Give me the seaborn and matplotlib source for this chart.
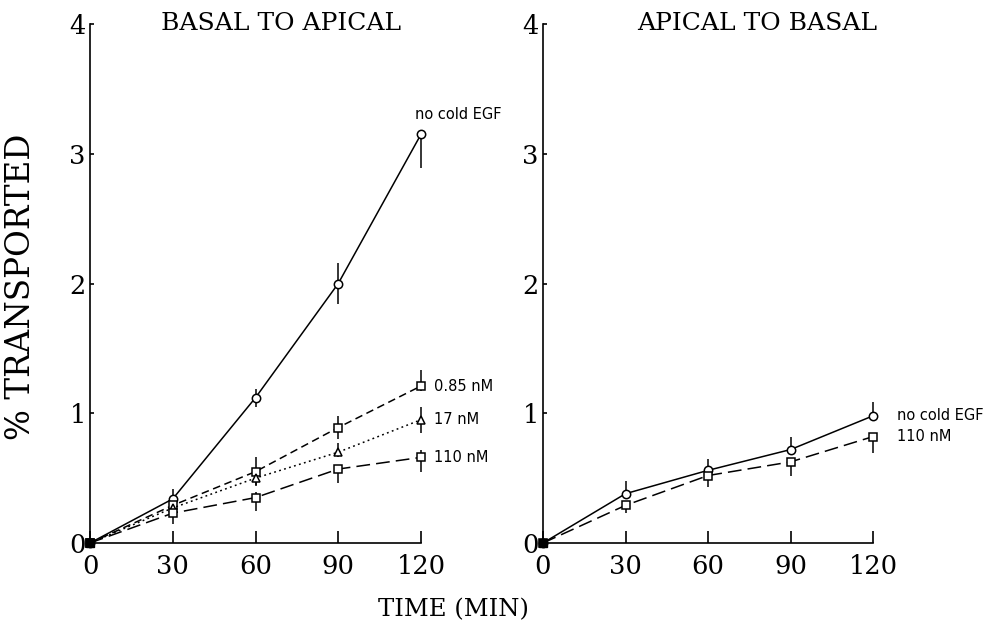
import matplotlib
matplotlib.use("Agg")
import matplotlib.pyplot as plt
import numpy as np
import pandas as pd
import seaborn as sns

# ---------------- data ----------------
time = [0, 30, 60, 90, 120]
xticks = [0, 30, 60, 90, 120]
yticks = [0, 1, 2, 3, 4]

# Basal to apical
ba_none = [0, 0.34, 1.12, 2.00, 3.15]
ba_none_lo = [0, 0.06, 0.07, 0.16, 0.26]
ba_none_hi = [0, 0.08, 0.07, 0.16, 0.0]
ba_085 = [0, 0.29, 0.55, 0.89, 1.21]
ba_085_lo = [0, 0.04, 0.11, 0.09, 0.04]
ba_085_hi = [0, 0.04, 0.11, 0.09, 0.12]
ba_17 = [0, 0.27, 0.50, 0.70, 0.95]
ba_17_lo = [0, 0.04, 0.05, 0.04, 0.10]
ba_17_hi = [0, 0.04, 0.05, 0.07, 0.10]
ba_110 = [0, 0.23, 0.35, 0.57, 0.66]
ba_110_lo = [0, 0.08, 0.10, 0.11, 0.11]
ba_110_hi = [0, 0.03, 0.04, 0.03, 0.06]

# Apical to basal
ab_none = [0, 0.38, 0.56, 0.72, 0.98]
ab_none_lo = [0, 0.04, 0.05, 0.04, 0.03]
ab_none_hi = [0, 0.10, 0.09, 0.10, 0.11]
ab_110 = [0, 0.29, 0.52, 0.625, 0.82]
ab_110_lo = [0, 0.06, 0.09, 0.11, 0.13]
ab_110_hi = [0, 0.02, 0.02, 0.02, 0.02]

titles = ["BASAL TO APICAL", "APICAL TO BASAL"]
ylabel = "% TRANSPORTED"
xlabel = "TIME (MIN)"

# ---------------- style ----------------
sns.set_style("ticks")
plt.rcParams["font.family"] = ["DejaVu Serif"]

fig = plt.figure(figsize=(9.83, 6.25), dpi=100)
W, H = 983, 625
ax1 = fig.add_axes([90 / W, 1 - 543 / H, 331 / W, 519 / H])
ax2 = fig.add_axes([543 / W, 1 - 543 / H, 330 / W, 519 / H])

dash_styles = {
    "solid": "-",
    "short": (0, (5, 3)),
    "dot": (0, (1.2, 2.2)),
    "long": (0, (9, 4)),
}

def draw(ax, y, lo, hi, marker, ls, ms=6):
    df = pd.DataFrame({"time": time, "value": y})
    sns.lineplot(data=df, x="time", y="value", ax=ax, color="black",
                 linewidth=1.1, linestyle=ls, marker=marker, markersize=ms,
                 markerfacecolor="white", markeredgecolor="black",
                 markeredgewidth=1.1, clip_on=False, zorder=3)
    ax.errorbar(time, y, yerr=[lo, hi], fmt="none", ecolor="black",
                elinewidth=1.1, capsize=0, clip_on=False, zorder=2)

draw(ax1, ba_none, ba_none_lo, ba_none_hi, "o", dash_styles["solid"])
draw(ax1, ba_085, ba_085_lo, ba_085_hi, "s", dash_styles["short"], ms=5.5)
draw(ax1, ba_17, ba_17_lo, ba_17_hi, "^", dash_styles["dot"])
draw(ax1, ba_110, ba_110_lo, ba_110_hi, "s", dash_styles["long"], ms=5.5)

draw(ax2, ab_none, ab_none_lo, ab_none_hi, "o", dash_styles["solid"])
draw(ax2, ab_110, ab_110_lo, ab_110_hi, "s", dash_styles["long"], ms=5.5)

# origin points appear filled
for ax in (ax1, ax2):
    ax.plot([0], [0], marker="s", color="black", markersize=6, clip_on=False, zorder=4)

annot_font = dict(family="DejaVu Sans", fontsize=10.5, color="black")
ax1.annotate("no cold EGF", xy=(120, ba_none[-1]), xytext=(-6, 20),
             textcoords="offset pixels", ha="left", va="center", **annot_font)
ax1.annotate("0.85 nM", xy=(120, ba_085[-1]), xytext=(13, 0),
             textcoords="offset pixels", ha="left", va="center", **annot_font)
ax1.annotate("17 nM", xy=(120, ba_17[-1]), xytext=(13, 0),
             textcoords="offset pixels", ha="left", va="center", **annot_font)
ax1.annotate("110 nM", xy=(120, ba_110[-1]), xytext=(13, 0),
             textcoords="offset pixels", ha="left", va="center", **annot_font)
ax2.annotate("no cold EGF", xy=(120, ab_none[-1]), xytext=(24, 0),
             textcoords="offset pixels", ha="left", va="center", **annot_font)
ax2.annotate("110 nM", xy=(120, ab_110[-1]), xytext=(24, 0),
             textcoords="offset pixels", ha="left", va="center", **annot_font)

title_x = [0.577, 0.648]
for ax, t, tx in zip((ax1, ax2), titles, title_x):
    ax.set_xlim(0, 120)
    ax.set_ylim(0, 4)
    ax.set_xticks(xticks)
    ax.set_yticks(yticks)
    ax.set_xticklabels([str(v) for v in xticks])
    ax.set_yticklabels([str(v) for v in yticks])
    ax.set_xlabel("")
    ax.set_ylabel("")
    sns.despine(ax=ax)
    for s in ("left", "bottom"):
        ax.spines[s].set_linewidth(1.2)
        ax.spines[s].set_color("black")
    ax.tick_params(axis="x", direction="in", length=9, width=1.2, pad=8,
                   labelsize=18.5, colors="black")
    ax.tick_params(axis="y", direction="in", length=3, width=1.2, pad=3,
                   labelsize=18.5, colors="black")
    ax.text(tx, 1.0, t, transform=ax.transAxes, ha="center", va="center",
            fontsize=18, color="black")

fig.text(21 / W, 1 - 287 / H, ylabel, rotation=90, ha="center", va="center",
         fontsize=23.5, color="black")
fig.text(453 / W, 1 - 610 / H, xlabel, ha="center", va="center",
         fontsize=17.5, color="black")

fig.savefig("out.png", dpi=100, facecolor="white")
